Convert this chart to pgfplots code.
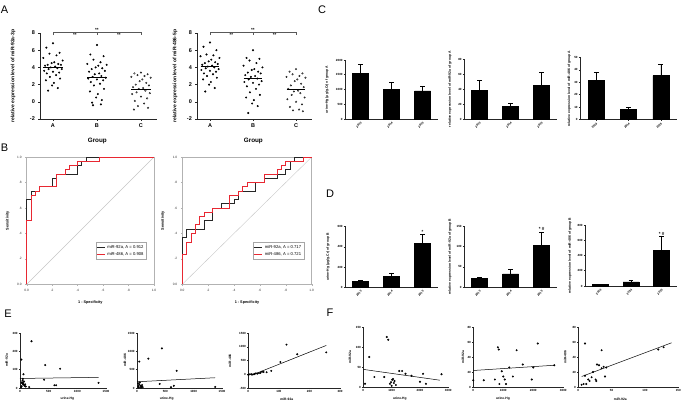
\documentclass[border=0pt]{standalone}
\usepackage{pgfplots}
\pgfplotsset{compat=1.18}
\usepackage{fontspec}
\setmainfont{Liberation Sans}
\definecolor{rocred}{RGB}{232,40,50}
\newcommand{\fs}[1]{\fontsize{#1}{#1}\selectfont}
\pgfplotsset{
  base/.style={scale only axis, anchor=south west, clip=false,
    /pgf/number format/assume math mode=true,
    /pgf/number format/1000 sep={}, scaled ticks=false},
  gp/.style={base, axis x line*=bottom, axis y line*=left,
    tick align=outside, major tick length=1.6pt,
    axis line style={line width=0.5pt, black!85},
    every tick/.style={line width=0.5pt, black!85}},
  scat/.style={gp, ymin=-2, ymax=8,
    xtick={1,2,3}, xticklabels={A,B,C}, ytick={-2,0,2,4,6,8},
    tick label style={font=\fs{5.5}\bfseries},
    xlabel={Group}, xlabel style={font=\fs{6.3}\bfseries, at={(axis description cs:0.49,-0.256)}, anchor=center},
    ylabel style={font=\fs{5}\bfseries, anchor=center}},
  bars/.style={gp, xmin=0.5, xmax=3.5, ymin=0, xtick={1,2,3}, xticklabels={2013,2014,2015},
    x tick label style={rotate=45, anchor=north east, font=\fs{3}\bfseries, inner sep=1pt},
    y tick label style={font=\fs{3}\bfseries, inner sep=1pt},
    ylabel style={font=\fs{3.4}\bfseries, anchor=center},
    major tick length=1.2pt},
  roc/.style={base, xmin=0, xmax=1, ymin=0, ymax=1,
    xtick={0,0.2,0.4,0.6,0.8,1}, ytick={0,0.2,0.4,0.6,0.8,1},
    xticklabels={0.0,.2,.4,.6,.8,1.0}, yticklabels={0.0,.2,.4,.6,.8,1.0},
    tick pos=left, tick align=outside, major tick length=1.5pt,
    axis line style={gray!60, line width=0.5pt}, every tick/.style={gray!60, line width=0.4pt},
    tick label style={font=\fs{3.2}, text=black!80},
    xlabel={1 - Specificity}, ylabel={Sensitivity},
    label style={font=\fs{3.8}\bfseries},
    xlabel style={at={(axis description cs:0.5,-0.147)}, anchor=center},
    ylabel style={at={(axis description cs:-0.15,0.5)}, anchor=center},
    legend style={font=\fs{4.2}, draw=gray!70, line width=0.4pt, inner sep=0.6pt,
      row sep=-1.8pt, cells={anchor=west}, anchor=south east},
    legend image code/.code={\draw[#1, line width=0.8pt] (0pt,0pt) -- (8pt,0pt);}},
  es/.style={gp, major tick length=1.2pt,
    tick label style={font=\fs{3}\bfseries, inner sep=1pt},
    label style={font=\fs{3.3}\bfseries, anchor=center}},
  dot/.style={only marks, mark=*, mark size=0.8pt, black},
}
\newcommand{\barplot}[1]{\addplot[ybar, bar width=16pt, fill=black, draw=black,
  error bars/.cd, y dir=plus, y explicit, error bar style={line width=0.6pt, black},
  error mark options={rotate=90, mark size=2.4pt, line width=0.6pt, black}] coordinates {#1};}
\begin{document}
\begin{tikzpicture}
\path[use as bounding box] (0,0) rectangle (685pt,403pt);
% panel letters
\node[font=\fs{11}] at (4.5pt,393pt) {A};
\node[font=\fs{11}] at (4.5pt,255.5pt) {B};
\node[font=\fs{11}] at (322pt,393pt) {C};
\node[font=\fs{11}] at (330pt,209.7pt) {D};
\node[font=\fs{11}] at (8pt,89pt) {E};
\node[font=\fs{11}] at (330pt,90pt) {F};

% ---------- A1 ----------
\begin{axis}[scat, at={(40pt,284pt)}, width=117pt, height=86pt, xmin=0.705, xmax=3.364,
  ylabel={relative expression level of miR-92a-3p}, ylabel style={at={(axis description cs:-0.231,0.5)}}]
\addplot[only marks, mark=*, mark size=0.8pt] coordinates {(1,6.8) (0.85,6.3) (1.15,5.7) (0.92,5.6) (1.08,5.4) (0.78,5.1) (1.22,4.8) (1.03,4.6) (0.97,4.5) (1.12,4.4) (0.88,4.3) (1.18,4.3) (0.82,4.2) (1.05,4.1) (0.95,4.0) (1.1,3.9) (0.9,3.8) (1.2,3.8) (0.8,3.6) (1,3.5) (1.14,3.4) (0.86,3.3) (1.07,3.1) (0.93,2.9) (1.16,2.7) (0.84,2.5) (1.02,2.2) (0.98,1.9) (1.11,1.6) (0.89,1.3)};
\addplot[only marks, mark=*, mark size=0.8pt] coordinates {(2,6.6) (1.85,5.5) (2.15,5.3) (1.92,4.9) (2.08,4.6) (1.78,4.4) (2.22,4.3) (2.03,4.2) (1.97,4.0) (2.12,3.9) (1.88,3.8) (2.18,3.6) (1.82,3.5) (2.05,3.3) (1.95,3.2) (2.1,3.0) (1.9,2.9) (2.2,2.8) (1.8,2.7) (2,2.6) (2.14,2.5) (1.86,2.3) (2.07,2.1) (1.93,1.9) (2.16,1.5) (1.84,1.2) (2.02,0.9) (1.98,0.5) (2.11,0.2) (1.89,-0.1) (2.09,-0.3) (1.91,-0.4)};
\addplot[only marks, mark=o, mark size=0.8pt, mark options={line width=0.35pt}] coordinates {(3,3.4) (2.85,3.3) (3.15,3.2) (2.92,3.1) (3.08,3.0) (2.78,2.9) (3.22,2.8) (3.03,2.6) (2.97,2.4) (3.12,2.2) (2.88,2.0) (3.18,1.9) (2.82,1.7) (3.05,1.6) (2.95,1.5) (3.1,1.3) (2.9,1.1) (3.2,1.0) (2.8,0.9) (3,0.6) (3.14,0.4) (2.86,0.1) (3.07,-0.2) (2.93,-0.5) (3.16,-0.7) (2.84,-0.9)};
\addplot[line width=0.7pt] coordinates {(0.78,4.0) (1.22,4.0)};
\addplot[line width=0.7pt] coordinates {(1.78,2.9) (2.22,2.9)};
\addplot[line width=0.7pt] coordinates {(2.78,1.5) (3.22,1.5)};
\draw[gray!70!black, line width=0.5pt] (axis cs:1,7.75) -- (axis cs:1,8.1) -- (axis cs:3,8.1) -- (axis cs:3,7.75) (axis cs:2,8.1) -- (axis cs:2,7.75);
\node[font=\fs{4.5}\bfseries, anchor=south, inner sep=0.6pt] at (axis cs:2,8.1) {**};
\node[font=\fs{4.5}\bfseries, anchor=north, inner sep=1.2pt] at (axis cs:1.5,8.1) {**};
\node[font=\fs{4.5}\bfseries, anchor=north, inner sep=1.2pt] at (axis cs:2.5,8.1) {**};
\end{axis}

% ---------- A2 ----------
\begin{axis}[scat, at={(197pt,284pt)}, width=115pt, height=86pt, xmin=0.698, xmax=3.372,
  ylabel={relative expression level of miR-486-5p}, ylabel style={at={(axis description cs:-0.191,0.5)}}]
\addplot[only marks, mark=*, mark size=0.8pt] coordinates {(1,6.9) (0.85,6.4) (1.15,6.0) (0.92,5.5) (1.08,5.4) (0.78,5.3) (1.22,5.1) (1.03,4.9) (0.97,4.7) (1.12,4.6) (0.88,4.5) (1.18,4.4) (0.82,4.3) (1.05,4.2) (0.95,4.1) (1.1,4.0) (0.9,3.9) (1.2,3.8) (0.8,3.7) (1,3.6) (1.14,3.5) (0.86,3.3) (1.07,3.2) (0.93,3.0) (1.16,2.8) (0.84,2.6) (1.02,2.3) (0.98,2.0) (1.11,1.6) (0.89,1.2)};
\addplot[only marks, mark=*, mark size=0.8pt] coordinates {(2,6.0) (1.85,5.1) (2.15,5.0) (1.92,4.8) (2.08,4.5) (1.78,4.2) (2.22,4.0) (2.03,3.8) (1.97,3.7) (2.12,3.5) (1.88,3.4) (2.18,3.3) (1.82,3.1) (2.05,3.0) (1.95,2.9) (2.1,2.7) (1.9,2.6) (2.2,2.4) (1.8,2.3) (2,2.2) (2.14,2.0) (1.86,1.8) (2.07,1.5) (1.93,1.1) (2.16,0.8) (1.84,0.5) (2.02,0.2) (1.98,-0.2) (2.11,-0.5) (1.89,-1.3)};
\addplot[only marks, mark=o, mark size=0.8pt, mark options={line width=0.35pt}] coordinates {(3,3.8) (2.85,3.5) (3.15,3.3) (2.92,3.2) (3.08,3.0) (2.78,2.9) (3.22,2.8) (3.03,2.6) (2.97,2.4) (3.12,2.1) (2.88,1.9) (3.18,1.7) (2.82,1.5) (3.05,1.3) (2.95,1.2) (3.1,1.0) (2.9,0.8) (3.2,0.5) (2.8,0.3) (3,0.0) (3.14,-0.3) (2.86,-0.6) (3.07,-0.9) (2.93,-1.0) (3.16,-1.1)};
\addplot[line width=0.7pt] coordinates {(0.78,4.1) (1.22,4.1)};
\addplot[line width=0.7pt] coordinates {(1.78,2.7) (2.22,2.7)};
\addplot[line width=0.7pt] coordinates {(2.78,1.4) (3.22,1.4)};
\draw[gray!70!black, line width=0.5pt] (axis cs:1,7.75) -- (axis cs:1,8.1) -- (axis cs:3,8.1) -- (axis cs:3,7.75) (axis cs:2,8.1) -- (axis cs:2,7.75);
\node[font=\fs{4.5}\bfseries, anchor=south, inner sep=0.6pt] at (axis cs:2,8.1) {**};
\node[font=\fs{4.5}\bfseries, anchor=north, inner sep=1.2pt] at (axis cs:1.5,8.1) {**};
\node[font=\fs{4.5}\bfseries, anchor=north, inner sep=1.2pt] at (axis cs:2.5,8.1) {**};
\end{axis}

% ---------- B1 ----------
\begin{axis}[roc, at={(26.7pt,118.7pt)}, width=127.3pt, height=127.3pt,
  legend style={at={(axis description cs:0.94,0.196)}}]
\addplot[gray!45, line width=0.4pt, forget plot] coordinates {(0,0) (1,1)};
\addplot[black!85, line width=0.7pt] coordinates {(0,0) (0,0.667) (0.033,0.667) (0.033,0.733) (0.1,0.733) (0.1,0.767) (0.2,0.767) (0.2,0.833) (0.233,0.833) (0.233,0.867) (0.4,0.867) (0.4,0.933) (0.433,0.933) (0.433,0.967) (0.467,0.967) (0.467,1) (1,1)};
\addplot[rocred, line width=0.7pt] coordinates {(0,0) (0,0.5) (0.033,0.5) (0.033,0.7) (0.067,0.7) (0.067,0.733) (0.1,0.733) (0.1,0.767) (0.233,0.767) (0.233,0.867) (0.3,0.867) (0.3,0.9) (0.333,0.9) (0.333,0.933) (0.4,0.933) (0.4,0.967) (0.567,0.967) (0.567,1) (1,1)};
\legend{miR-92a{,} A = 0.912, miR-486{,} A = 0.908}
\end{axis}

% ---------- B2 ----------
\begin{axis}[roc, at={(182.3pt,118.7pt)}, width=129.4pt, height=127.3pt,
  legend style={at={(axis description cs:0.94,0.196)}}]
\addplot[gray!45, line width=0.4pt, forget plot] coordinates {(0,0) (1,1)};
\addplot[black!85, line width=0.7pt] coordinates {(0,0) (0,0.367) (0.033,0.367) (0.033,0.433) (0.167,0.433) (0.167,0.5) (0.233,0.5) (0.233,0.6) (0.3,0.6) (0.3,0.633) (0.4,0.633) (0.4,0.667) (0.433,0.667) (0.433,0.733) (0.567,0.733) (0.567,0.8) (0.633,0.8) (0.633,0.833) (0.733,0.833) (0.733,0.867) (0.8,0.867) (0.8,0.9) (0.833,0.9) (0.833,0.967) (0.867,0.967) (0.867,1) (1,1)};
\addplot[rocred, line width=0.7pt] coordinates {(0,0) (0,0.233) (0.033,0.233) (0.033,0.333) (0.067,0.333) (0.067,0.4) (0.1,0.4) (0.1,0.467) (0.133,0.467) (0.133,0.533) (0.167,0.533) (0.167,0.567) (0.233,0.567) (0.233,0.6) (0.367,0.6) (0.367,0.7) (0.433,0.7) (0.433,0.733) (0.467,0.733) (0.467,0.767) (0.5,0.767) (0.5,0.8) (0.633,0.8) (0.633,0.867) (0.733,0.867) (0.733,0.9) (0.767,0.9) (0.767,0.933) (0.8,0.933) (0.8,0.967) (0.933,0.967) (0.933,1) (1,1)};
\legend{miR-92a{,} A = 0.717, miR-486{,} A = 0.721}
\end{axis}

% ---------- C ----------
\begin{axis}[bars, at={(345pt,284pt)}, width=93pt, height=59pt, ymax=2000, ytick={0,500,1000,1500,2000},
  ylabel={urine-Hg (μg/g.Cr) of group A}, ylabel style={at={(axis description cs:-0.194,0.5)}}]
\barplot{(1,1550) +- (0,310) (2,1000) +- (0,230) (3,950) +- (0,160)}
\end{axis}
\begin{axis}[bars, at={(464pt,284pt)}, width=93pt, height=59.7pt, ymax=80, ytick={0,20,40,60,80},
  ylabel={relative expression level of miR-92a of group A}, ylabel style={at={(axis description cs:-0.15,0.5)}}]
\barplot{(1,38) +- (0,14) (2,16.5) +- (0,5) (3,45) +- (0,17)}
\end{axis}
\begin{axis}[bars, at={(580pt,283.3pt)}, width=97pt, height=62.4pt, ymax=50, ytick={0,10,20,30,40,50},
  ylabel={relative expression level of miR-486 of group A}, ylabel style={at={(axis description cs:-0.11,0.5)}}]
\barplot{(1,31.3) +- (0,6.7) (2,8.3) +- (0,2) (3,35.3) +- (0,9)}
\end{axis}

% ---------- D ----------
\begin{axis}[bars, at={(345pt,115.7pt)}, width=93pt, height=60.8pt, ymax=600, ytick={0,200,400,600},
  ylabel={urine-Hg (μg/g.Cr) of group B}, ylabel style={at={(axis description cs:-0.183,0.5)}}]
\barplot{(1,62) +- (0,9) (2,110) +- (0,33) (3,437) +- (0,85)}
\node[font=\fs{4.5}\bfseries, anchor=south, inner sep=1pt] at (axis cs:3,522) {*};
\end{axis}
\begin{axis}[bars, at={(464pt,115.7pt)}, width=93pt, height=61.3pt, ymax=150, ytick={0,50,100,150},
  ylabel={relative expression level of miR-92a of group B}, ylabel style={at={(axis description cs:-0.15,0.5)}}]
\barplot{(1,22) +- (0,2.5) (2,33) +- (0,10) (3,102) +- (0,33)}
\node[font=\fs{4.5}\bfseries, anchor=south, inner sep=1pt] at (axis cs:3,135) {* \#};
\end{axis}
\begin{axis}[bars, at={(585pt,117pt)}, width=92pt, height=61pt, ymax=800, ytick={0,200,400,600,800},
  ylabel={relative expression level of miR-486 of group B}, ylabel style={at={(axis description cs:-0.163,0.5)}}]
\barplot{(1,20) +- (0,3) (2,55) +- (0,20) (3,472) +- (0,175)}
\node[font=\fs{4.5}\bfseries, anchor=south, inner sep=1pt] at (axis cs:3,647) {* \#};
\end{axis}

% ---------- E ----------
\begin{axis}[es, at={(20pt,15pt)}, width=86pt, height=55pt, xmin=0, xmax=1500, ymin=0, ymax=300,
  xtick={0,500,1000,1500}, ytick={0,100,200,300},
  xlabel={urine-Hg}, ylabel={miR-92a},
  xlabel style={at={(axis description cs:0.55,-0.2)}}, ylabel style={at={(axis description cs:-0.155,0.5)}}]
\addplot[dot] coordinates {(200,255) (25,155) (440,125) (700,105) (60,75) (50,50) (420,45) (600,15) (630,15) (1370,28) (160,5) (30,30) (40,25) (50,22) (60,18) (70,35) (80,12) (30,10) (90,20) (45,40) (20,5) (100,8) (55,28)};
\addplot[black, line width=0.5pt] coordinates {(0,52) (1370,58)};
\end{axis}
\begin{axis}[es, at={(137pt,15pt)}, width=85pt, height=55pt, xmin=0, xmax=1500, ymin=0, ymax=1500,
  xtick={0,500,1000,1500}, ytick={0,500,1000,1500},
  xlabel={urine-Hg}, ylabel={miR-486},
  xlabel style={at={(axis description cs:0.35,-0.2)}}, ylabel style={at={(axis description cs:-0.141,0.5)}}]
\addplot[dot] coordinates {(40,720) (200,800) (440,1080) (700,470) (400,110) (600,20) (650,60) (1380,30) (20,130) (40,100) (60,60) (30,20) (80,40) (50,150) (70,10) (90,80) (25,50) (100,25)};
\addplot[black, line width=0.5pt] coordinates {(0,170) (1380,280)};
\end{axis}
\begin{axis}[es, at={(248.3pt,14.7pt)}, width=91.7pt, height=55.3pt, xmin=0, xmax=300, ymin=-500, ymax=1500,
  xtick={0,100,200,300}, ytick={-500,0,500,1000,1500},
  xlabel={miR-92a}, ylabel={miR-486},
  xlabel style={at={(axis description cs:0.42,-0.2)}}, ylabel style={at={(axis description cs:-0.2,0.5)}}]
\addplot[dot] coordinates {(125,1080) (160,730) (255,800) (105,450) (75,130) (50,90) (40,60) (30,30) (20,20) (10,10) (5,5) (25,40) (35,50) (15,0) (45,100) (60,80) (0,-10) (20,15)};
\addplot[black, line width=0.5pt] coordinates {(10,-30) (255,1050)};
\end{axis}

% ---------- F ----------
\begin{axis}[es, at={(363.3pt,16pt)}, width=85pt, height=60pt, xmin=0, xmax=3000, ymin=0, ymax=150,
  xtick={0,1000,2000,3000}, ytick={0,50,100,150},
  xlabel={urine-Hg}, ylabel={miR-92a},
  xlabel style={at={(axis description cs:0.43,-0.2)}}, ylabel style={at={(axis description cs:-0.157,0.5)}}]
\addplot[dot] coordinates {(830,125) (880,118) (210,75) (60,8) (390,25) (740,25) (940,8) (980,12) (1020,18) (1050,20) (1080,10) (1100,15) (1150,5) (1000,3) (1270,40) (1370,40) (1490,33) (1700,28) (2110,33) (2000,13) (2210,8) (2760,32)};
\addplot[black, line width=0.5pt] coordinates {(0,44) (2700,17)};
\end{axis}
\begin{axis}[es, at={(473.3pt,16pt)}, width=90pt, height=60pt, xmin=0, xmax=3000, ymin=0, ymax=80,
  xtick={0,1000,2000,3000}, ytick={0,20,40,60,80},
  xlabel={urine-Hg}, ylabel={miR-92a},
  xlabel style={at={(axis description cs:0.33,-0.2)}}, ylabel style={at={(axis description cs:-0.114,0.5)}}]
\addplot[dot] coordinates {(820,53) (850,50) (1444,49) (2150,58) (1650,30) (2000,26) (1200,26) (1000,14) (1050,10) (870,4) (1090,4) (1320,14) (950,21) (0,9) (350,9) (720,10) (1950,10) (2700,29)};
\addplot[black, line width=0.5pt] coordinates {(0,22) (2700,29)};
\end{axis}
\begin{axis}[es, at={(578.3pt,16pt)}, width=100pt, height=60pt, xmin=0, xmax=150, ymin=0, ymax=80,
  xtick={0,50,100,150}, ytick={0,20,40,60,80},
  xlabel={miR-92a}, ylabel={miR-486},
  xlabel style={at={(axis description cs:0.42,-0.2)}}, ylabel style={at={(axis description cs:-0.13,0.5)}}]
\addplot[dot] coordinates {(10,58) (35,49) (120,50) (128,53) (28,30) (31,29) (35,25) (42,26) (40,14) (10,15) (8,4) (12,4) (15,10) (17,8) (20,13) (22,20) (27,8) (26,10) (38,27) (5,3)};
\addplot[black, line width=0.5pt] coordinates {(5,14) (140,59)};
\end{axis}
\end{tikzpicture}
\end{document}
